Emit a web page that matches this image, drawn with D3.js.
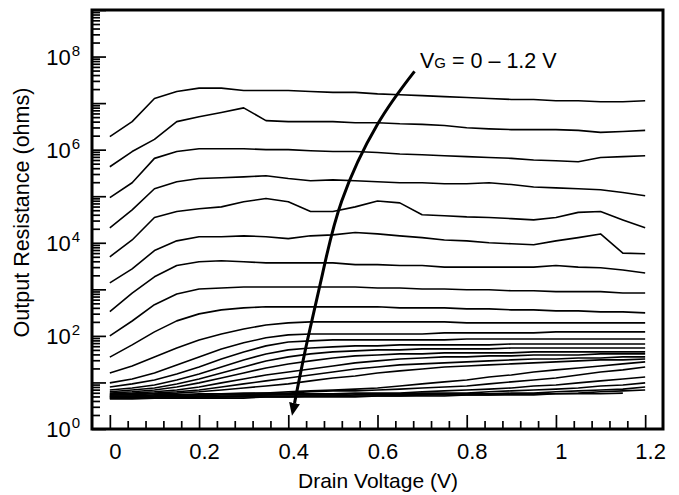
<!DOCTYPE html>
<html>
<head>
<meta charset="utf-8">
<script src="https://cdn.jsdelivr.net/npm/d3@7"></script>
<style>
  body { margin: 0; background: #fff; }
  text { font-family: "Liberation Sans", Arial, Helvetica, sans-serif; fill: #000; }
</style>
</head>
<body>
<svg id="chart" width="679" height="495"></svg>
<script>
// drain voltage samples (V)
var vd = [0, 0.05, 0.1, 0.15, 0.2, 0.25, 0.3, 0.35, 0.4, 0.45, 0.5, 0.55, 0.6, 0.65, 0.7, 0.75, 0.8, 0.85, 0.9, 0.95, 1, 1.05, 1.1, 1.15, 1.2];

// output resistance (ohms), one array per gate voltage
var vg000 = [1.9e6, 4.0e6, 1.26e7, 1.78e7, 2.1e7, 2.1e7, 1.86e7, 1.86e7, 1.86e7, 1.78e7, 1.7e7, 1.7e7, 1.58e7, 1.51e7, 1.45e7, 1.38e7, 1.32e7, 1.26e7, 1.2e7, 1.2e7, 1.12e7, 1.12e7, 1.07e7, 1.07e7, 1.12e7];
var vg005 = [4.3e5, 9.1e5, 1.66e6, 4.0e6, 5.1e6, 6.3e6, 7.9e6, 4.2e6, 4.0e6, 4.0e6, 4.0e6, 3.8e6, 3.8e6, 3.6e6, 3.5e6, 3.3e6, 2.95e6, 2.8e6, 2.7e6, 2.7e6, 2.7e6, 2.6e6, 2.35e6, 2.45e6, 2.6e6];
var vg010 = [9.3e4, 1.95e5, 6.5e5, 9.1e5, 1.05e6, 1.05e6, 1.05e6, 1.0e6, 1.0e6, 9.5e5, 9.1e5, 9.1e5, 8.7e5, 8.1e5, 7.8e5, 7.4e5, 7.1e5, 6.8e5, 6.5e5, 6.0e5, 5.8e5, 5.5e5, 6.8e5, 7.1e5, 7.4e5];
var vg015 = [2.1e4, 5.1e4, 1.45e5, 2.05e5, 2.4e5, 2.5e5, 2.6e5, 2.75e5, 2.4e5, 2.15e5, 2.25e5, 2.15e5, 2.05e5, 1.95e5, 1.95e5, 1.86e5, 1.86e5, 1.95e5, 1.78e5, 1.58e5, 1.51e5, 1.45e5, 1.38e5, 1.2e5, 1.02e5];
var vg020 = [5.0e3, 1.15e4, 3.5e4, 4.7e4, 5.4e4, 5.9e4, 7.6e4, 8.9e4, 7.6e4, 4.7e4, 4.7e4, 5.9e4, 7.9e4, 7.2e4, 4.0e4, 3.8e4, 3.6e4, 3.5e4, 3.3e4, 3.1e4, 3.5e4, 4.5e4, 4.7e4, 3.1e4, 2.1e4];
var vg025 = [1.38e3, 2.75e3, 6.8e3, 1.1e4, 1.35e4, 1.35e4, 1.41e4, 1.35e4, 1.23e4, 1.41e4, 1.48e4, 1.66e4, 1.55e4, 1.41e4, 1.29e4, 1.15e4, 1.1e4, 1.0e4, 9.5e3, 9.1e3, 1.1e4, 1.29e4, 1.55e4, 6.0e3, 5.8e3];
var vg030 = [331, 832, 1.86e3, 3.24e3, 3.9e3, 4.1e3, 3.9e3, 3.7e3, 3.7e3, 3.7e3, 3.7e3, 3.4e3, 3.4e3, 3.24e3, 3.24e3, 3.0e3, 3.0e3, 3.0e3, 3.0e3, 3.0e3, 3.24e3, 3.0e3, 2.9e3, 2.6e3, 2.24e3];
var vg035 = [100, 209, 468, 794, 1020, 1070, 1120, 1120, 1120, 1120, 1120, 1120, 1070, 1070, 1020, 1020, 977, 977, 933, 933, 891, 891, 891, 832, 832];
var vg040 = [35, 64, 122, 210, 297, 362, 400, 421, 421, 421, 421, 421, 421, 400, 400, 400, 381, 381, 362, 362, 345, 345, 328, 328, 312];
var vg045 = [16.0, 22.6, 35.4, 55, 82, 110, 141, 172, 190, 200, 200, 200, 200, 200, 200, 200, 190, 190, 190, 190, 190, 190, 190, 190, 190];
var vg050 = [9.8, 11.9, 16.0, 23.8, 35.4, 52.5, 71, 91, 105, 110, 110, 110, 110, 110, 110, 116, 116, 116, 116, 116, 122, 122, 122, 122, 122];
var vg055 = [8.0, 9.3, 11.3, 15.2, 21.5, 32.0, 45.3, 61, 74, 78, 82, 82, 82, 82, 82, 82, 86, 86, 86, 86, 86, 86, 86, 86, 86];
var vg060 = [6.9, 7.6, 8.8, 11.3, 15.2, 21.5, 30.5, 41.0, 50, 55, 58, 61, 61, 64, 64, 64, 64, 64, 67, 67, 67, 67, 67, 67, 67];
var vg065 = [6.3, 6.9, 7.6, 9.3, 11.9, 16.0, 21.5, 29.0, 35.4, 41.0, 45.3, 47.6, 50, 50, 52.5, 52.5, 52.5, 52.5, 55, 55, 55, 55, 55, 55, 55];
var vg070 = [5.9, 6.3, 6.9, 8.0, 9.8, 12.5, 16.0, 20.5, 25.0, 29.0, 33.6, 37.2, 39.0, 41.0, 41.0, 43.1, 43.1, 43.1, 43.1, 45.3, 45.3, 45.3, 45.3, 45.3, 45.3];
var vg075 = [5.7, 5.9, 6.3, 6.9, 8.0, 9.8, 11.9, 14.5, 16.8, 19.5, 22.6, 26.3, 29.0, 32.0, 33.6, 35.4, 35.4, 37.2, 37.2, 39.0, 39.0, 39.0, 41.0, 41.0, 41.0];
var vg080 = [5.4, 5.7, 5.9, 6.3, 6.9, 8.0, 9.3, 10.8, 12.5, 14.5, 16.8, 19.5, 21.5, 23.8, 25.0, 26.3, 27.6, 29.0, 30.5, 32.0, 32.0, 33.6, 33.6, 35.4, 35.4];
var vg085 = [5.4, 5.4, 5.7, 5.9, 6.3, 6.9, 7.6, 8.4, 9.3, 10.8, 12.5, 13.8, 16.0, 17.7, 19.5, 21.5, 22.6, 23.8, 25.0, 26.3, 27.6, 29.0, 30.5, 30.5, 32.0];
var vg090 = [5.1, 5.1, 5.4, 5.4, 5.7, 5.7, 5.9, 5.9, 6.3, 6.6, 6.9, 7.2, 7.6, 8.4, 9.3, 10.3, 11.3, 13.1, 14.5, 16.8, 18.6, 20.5, 22.6, 25.0, 27.6];
var vg095 = [5.1, 5.1, 5.1, 5.4, 5.4, 5.7, 5.7, 5.9, 5.9, 6.3, 6.6, 6.6, 6.9, 7.2, 7.6, 8.0, 8.4, 9.3, 10.3, 11.3, 12.5, 14.5, 16.8, 18.6, 21.5];
var vg100 = [4.9, 4.9, 5.1, 5.1, 5.1, 5.4, 5.4, 5.4, 5.7, 5.7, 5.7, 5.9, 5.9, 5.9, 6.3, 6.6, 6.9, 7.2, 7.6, 8.4, 8.8, 9.8, 10.8, 11.9, 13.1];
var vg105 = [4.9, 4.9, 4.9, 5.1, 5.1, 5.1, 5.1, 5.4, 5.4, 5.4, 5.4, 5.7, 5.7, 5.7, 5.9, 5.9, 5.9, 6.3, 6.6, 6.9, 7.2, 7.6, 8.4, 8.8, 9.8];
var vg110 = [4.6, 4.6, 4.9, 4.9, 4.9, 4.9, 5.1, 5.1, 5.1, 5.1, 5.1, 5.4, 5.4, 5.4, 5.4, 5.7, 5.7, 5.7, 5.9, 5.9, 6.3, 6.6, 6.9, 7.2, 8.0];
var vg115 = [4.6, 4.6, 4.6, 4.6, 4.9, 4.9, 4.9, 4.9, 4.9, 5.1, 5.1, 5.1, 5.1, 5.1, 5.4, 5.4, 5.4, 5.4, 5.7, 5.7, 5.7, 5.9, 6.3, 6.6, 6.9];
var vg120 = [4.4, 4.4, 4.6, 4.6, 4.6, 4.6, 4.6, 4.9, 4.9, 4.9, 4.9, 4.9, 5.1, 5.1, 5.1, 5.1, 5.4, 5.4, 5.4, 5.4, 5.7, 5.7, 5.7, 5.9, null];

var curves = [vg000, vg005, vg010, vg015, vg020, vg025, vg030, vg035, vg040, vg045, vg050, vg055,
              vg060, vg065, vg070, vg075, vg080, vg085, vg090, vg095, vg100, vg105, vg110, vg115, vg120];

// axis ticks
var xTicks = [0, 0.2, 0.4, 0.6, 0.8, 1, 1.2];
var xMinor = [0.04, 0.08, 0.12, 0.16, 0.24, 0.28, 0.32, 0.36, 0.44, 0.48, 0.52, 0.56, 0.64, 0.68, 0.72, 0.76,
              0.84, 0.88, 0.92, 0.96, 1.04, 1.08, 1.12, 1.16];
var yDecades = [1, 10, 100, 1e3, 1e4, 1e5, 1e6, 1e7, 1e8, 1e9];
var yLabelExp = [0, 2, 4, 6, 8];

// annotation arrow (drain voltage, ohms)
var arrowV = [0.683, 0.60, 0.52, 0.477, 0.443, 0.414];
var arrowR = [4.8e7, 3.5e6, 8.0e4, 2.2e3, 81, 3.6];

var svg = d3.select("#chart");
var pLeft = 92, pRight = 663, pTop = 10, pBottom = 429;

var x = d3.scaleLinear().domain([-0.04, 1.24]).range([pLeft, pRight]);
var y = d3.scaleLog().domain([1, 1e9]).range([pBottom, pTop]);

// minor y ticks: 2..9 in each decade
var yMinor = [];
yDecades.slice(0, -1).forEach(d => {
  for (var k = 2; k <= 9; k++) yMinor.push(d * k);
});

// curves
var line = d3.line()
    .defined(d => d != null)
    .x((d, i) => x(vd[i]))
    .y(d => y(d));

svg.append("g")
  .selectAll("path")
  .data(curves)
  .join("path")
    .attr("fill", "none")
    .attr("stroke", "#000")
    .attr("stroke-width", 1.6)
    .attr("stroke-linejoin", "round")
    .attr("d", line);

// x axis ticks (inward)
var gx = svg.append("g").attr("transform", `translate(0,${pBottom})`);
gx.append("g")
  .call(d3.axisBottom(x).tickValues(xMinor).tickSizeInner(-8).tickSizeOuter(0).tickFormat(""));
gx.append("g")
  .call(d3.axisBottom(x).tickValues(xTicks).tickSizeInner(-14).tickSizeOuter(0)
        .tickPadding(14).tickFormat(d3.format("")));
gx.selectAll(".domain").remove();
gx.selectAll("line").attr("stroke", "#000").attr("stroke-width", 1.7);
gx.selectAll("text")
  .attr("dx", 5)
  .attr("font-family", null)
  .attr("font-size", null)
  .style("font-size", "22px");

// y axis ticks (inward)
var gy = svg.append("g").attr("transform", `translate(${pLeft},0)`);
gy.append("g")
  .call(d3.axisLeft(y).tickValues(yMinor).tickSizeInner(-8).tickSizeOuter(0).tickFormat(""));
gy.append("g")
  .call(d3.axisLeft(y).tickValues(yDecades).tickSizeInner(-14).tickSizeOuter(0).tickFormat(""));
gy.selectAll(".domain").remove();
gy.selectAll("line").attr("stroke", "#000").attr("stroke-width", 1.7);

var ylab = gy.append("g")
  .selectAll("text")
  .data(yLabelExp)
  .join("text")
    .attr("x", -12)
    .attr("y", d => y(Math.pow(10, d)) + 8)
    .attr("text-anchor", "end")
    .style("font-size", "22px");
ylab.append("tspan").text("10");
ylab.append("tspan")
    .attr("dy", -9)
    .attr("dx", 1)
    .style("font-size", "15px")
    .text(d => d);

// frame
svg.append("rect")
    .attr("x", pLeft)
    .attr("y", pTop)
    .attr("width", pRight - pLeft)
    .attr("height", pBottom - pTop)
    .attr("fill", "none")
    .attr("stroke", "#000")
    .attr("stroke-width", 3);

// axis titles
svg.append("text")
    .attr("x", 378)
    .attr("y", 488)
    .attr("text-anchor", "middle")
    .style("font-size", "21px")
    .text("Drain Voltage (V)");

svg.append("text")
    .attr("transform", `translate(29,${(pTop + pBottom) / 2 - 7}) rotate(-90)`)
    .attr("text-anchor", "middle")
    .style("font-size", "21.5px")
    .text("Output Resistance (ohms)");

// annotation
svg.append("defs").append("marker")
    .attr("id", "head")
    .attr("markerUnits", "userSpaceOnUse")
    .attr("markerWidth", 14)
    .attr("markerHeight", 12)
    .attr("refX", 0)
    .attr("refY", 5.5)
    .attr("orient", "auto")
  .append("path")
    .attr("d", "M0,0 L13,5.5 L0,11 Z")
    .attr("fill", "#000");

var arrowLine = d3.line()
    .curve(d3.curveNatural)
    .x((d, i) => x(arrowV[i]))
    .y(d => y(d));

svg.append("path")
    .datum(arrowR)
    .attr("fill", "none")
    .attr("stroke", "#000")
    .attr("stroke-width", 3)
    .attr("marker-end", "url(#head)")
    .attr("d", arrowLine);

var note = svg.append("text")
    .attr("x", 420)
    .attr("y", 68)
    .style("font-size", "21.5px");
note.append("tspan").text("V");
note.append("tspan").style("font-size", "15px").text("G");
note.append("tspan").text(" = 0 \u2013 1.2 V");
</script>
</body>
</html>
